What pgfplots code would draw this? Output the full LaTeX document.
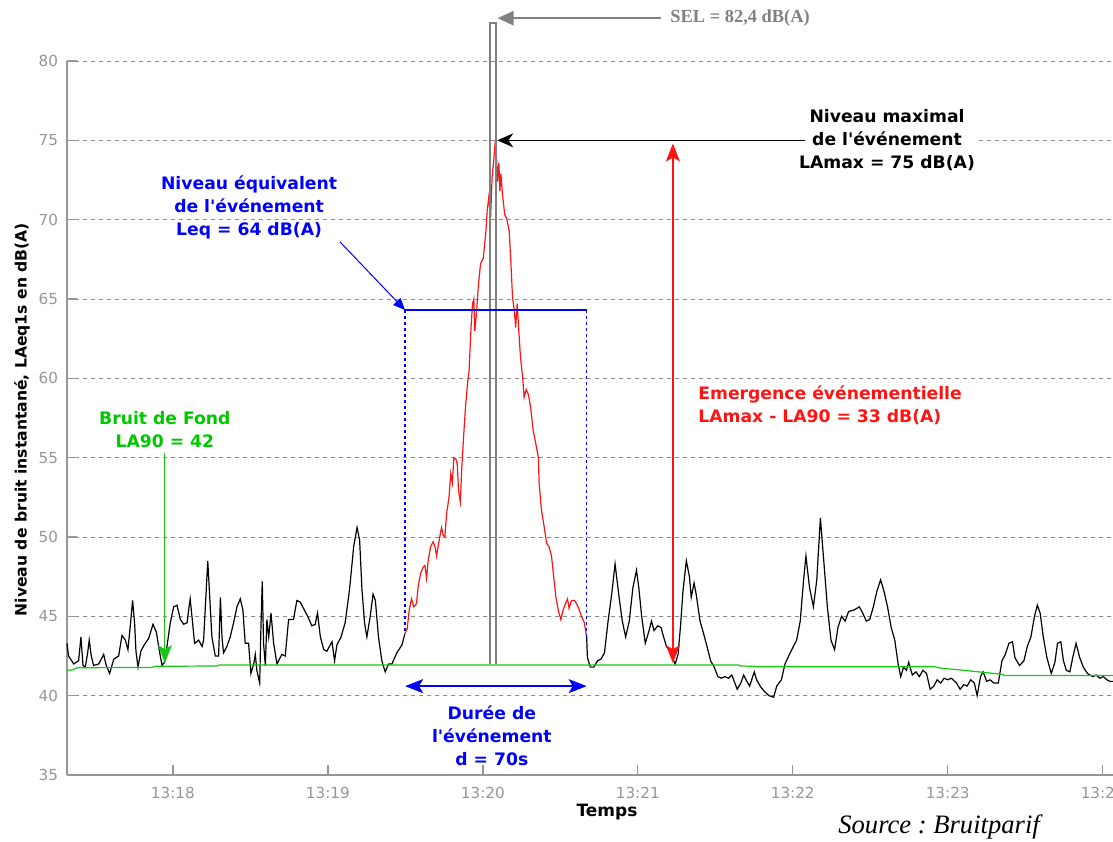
\documentclass[border=0pt]{standalone}
\usepackage{pgfplots}
\pgfplotsset{compat=1.18}
\usepackage{fontspec}
\setmainfont{DejaVu Sans}
\newfontfamily\timesfont{Liberation Serif}
\usetikzlibrary{arrows.meta}
\definecolor{axgray}{RGB}{150,150,150}
\definecolor{gridgray}{RGB}{140,140,140}
\definecolor{ticktext}{RGB}{150,150,150}
\definecolor{selgray}{RGB}{128,128,128}
\definecolor{cred}{RGB}{255,20,20}
\definecolor{cblue}{RGB}{0,0,255}
\definecolor{cgreen}{RGB}{20,200,20}
\definecolor{tgreen}{RGB}{0,200,0}
\newcommand\annot{\bfseries\fontsize{8.6}{11.5}\selectfont}
\newcommand\ap{\textquotesingle}
\frenchspacing
\begin{document}
\begin{tikzpicture}
\begin{axis}[
  at={(33.5pt,33pt)}, anchor=south west,
  scale only axis, width=523pt, height=357pt,
  xmin=19, xmax=424, ymin=35, ymax=80,
  axis x line=bottom, axis y line=left,
  axis line style={-, draw=axgray, line width=0.8pt},
  xtick={60,120,180,240,300,360,420},
  xticklabels={13:18,13:19,13:20,13:21,13:22,13:23,13:24},
  ytick={35,40,45,50,55,60,65,70,75,80},
  ymajorgrids,
  major grid style={dash pattern=on 2pt off 2pt, draw=gridgray, line width=0.5pt},
  tick style={draw=axgray, line width=0.7pt},
  major tick length=5pt, tick align=inside,
  /pgf/number format/assume math mode=true,
  tick label style={font=\fontsize{7.6}{9}\selectfont, text=ticktext},
  xticklabel style={yshift=-2.5pt},
  yticklabel style={xshift=-1pt},
  clip=false,
]
% background level (black)
\addplot[black, line width=0.6pt] coordinates {
(19,43.3)(19.6,42.5)(21.6,42.0)(23.5,42.2)(24.4,43.7)(25.2,41.9)(26.1,41.8)(27.0,42.7)(27.6,43.5)(28.4,42.5)(29.3,41.9)(31.3,42.0)(33.2,42.6)(34.2,41.9)(35.5,41.4)(37.1,42.3)(39.0,42.5)(40.3,43.8)(41.6,43.5)(42.6,42.9)(43.5,44.4)(44.4,46.0)(45.2,44.5)(45.7,42.8)(46.5,41.8)(47.6,42.8)(48.9,43.2)(50.6,43.6)(52.3,44.5)(53.6,44.0)(54.9,42.7)(55.8,41.9)(56.7,42.1)(57.7,43.1)(59.0,44.6)(60.3,45.6)(61.6,45.7)(62.9,44.8)(64.2,44.5)(65.5,44.6)(66.1,45.4)(66.7,46.1)(67.5,44.8)(68.4,43.3)(70.0,43.5)(71.3,43.1)(71.9,43.5)(72.5,45.4)(73.5,48.5)(74.2,46.4)(75.1,43.7)(76.4,42.5)(77.7,42.5)(78.4,46.2)(79.0,43.7)(79.6,42.7)(80.9,43.1)(82.2,43.7)(83.5,44.6)(84.8,45.6)(86.1,46.1)(87.1,45.4)(88.0,43.3)(89.3,43.3)(90.2,41.4)(91.3,42.0)(91.9,42.6)(92.5,41.6)(93.6,40.8)(94.1,44.4)(94.6,47.2)(95.1,43.3)(95.8,41.9)(96.4,44.8)(97.1,43.7)(98.0,45.2)(99.0,43.3)(100.3,42.0)(102.2,42.6)(103.5,42.5)(104.8,44.8)(106.7,44.8)(108.0,46.0)(109.3,45.9)(110.9,45.4)(112.2,45.0)(113.8,44.4)(115.1,44.5)(116.0,45.2)(117.1,43.7)(118.4,42.9)(119.6,42.8)(121.6,43.4)(122.6,42.2)(123.5,43.2)(125.1,43.7)(126.7,44.6)(128.4,46.7)(130.0,49.4)(131.3,50.6)(132.3,49.8)(133.2,46.7)(134.2,44.6)(135.1,43.7)(136.4,45.0)(137.5,46.4)(138.4,46.0)(139.6,43.7)(140.9,42.2)(142.2,41.5)(143.5,42.0)(144.8,42.0)(146.7,42.7)(148.7,43.2)(149.8,43.9)
};
\addplot[black, line width=0.6pt] coordinates {
(220.2,43.7)(220.5,42.4)(221.6,41.8)(223.0,41.8)(224.4,42.2)(225.7,42.3)(227.1,42.7)(228.5,44.7)(229.9,46.4)(231.2,48.3)(232.6,46.4)(234.0,44.7)(235.3,43.7)(236.7,44.7)(238.1,46.8)(239.5,47.9)(240.4,46.8)(241.5,45.0)(242.9,43.3)(244.2,44.0)(245.3,44.7)(246.3,44.1)(247.7,44.4)(249.0,44.3)(250.0,43.7)(251.1,43.1)(252.5,42.8)(253.6,42.3)(254.5,42.0)(255.6,42.6)(256.6,44.5)(257.5,46.6)(258.8,48.5)(260.0,47.5)(260.7,46.2)(261.8,47.1)(262.7,46.3)(264.1,44.7)(265.5,43.9)(266.8,43.1)(268.2,42.2)(269.6,41.8)(271.0,41.2)(272.3,41.1)(273.7,41.2)(275.1,41.1)(276.4,41.3)(277.1,41.0)(278.5,40.4)(279.9,40.8)(281.0,41.3)(281.9,41.0)(283.3,40.6)(285.1,41.5)(286.0,41.0)(287.4,40.6)(288.8,40.3)(290.8,40.0)(292.6,39.9)(293.8,40.6)(295.6,41.0)(297.0,42.0)(299.0,42.7)(301.5,43.5)(302.9,44.7)(304.2,47.3)(305.1,48.8)(306.5,46.8)(308.0,45.6)(309.3,47.3)(310.7,51.2)(312.1,48.3)(313.4,45.6)(314.8,43.5)(316.2,42.9)(317.5,44.3)(318.9,45.0)(320.3,44.7)(321.6,45.3)(323.7,45.4)(325.8,45.6)(327.1,45.2)(328.5,44.7)(329.8,44.8)(331.2,45.6)(332.6,46.6)(334.0,47.3)(335.3,46.6)(336.7,45.6)(338.1,44.3)(339.5,43.5)(340.8,42.0)(341.8,41.2)(342.9,41.8)(344.0,41.6)(344.9,42.1)(346.3,41.3)(347.7,41.5)(349.0,41.2)(350.4,41.6)(351.8,41.4)(353.2,40.4)(354.6,40.6)(355.9,41.0)(357.3,40.8)(358.6,41.1)(360.0,41.0)(361.4,41.1)(363.4,40.8)(364.8,40.4)(366.2,40.7)(367.5,40.6)(368.9,41.0)(370.3,40.8)(371.4,40.0)(372.7,41.2)(373.7,41.5)(375.1,40.9)(376.4,41.0)(377.8,40.8)(379.6,40.8)(381.0,42.2)(382.3,42.6)(383.7,43.3)(385.1,43.4)(386.0,42.4)(387.8,41.9)(389.5,42.2)(390.8,43.1)(392.2,43.7)(393.6,45.0)(394.7,45.7)(395.8,45.2)(397.0,43.7)(398.4,42.4)(400.1,41.4)(401.5,42.1)(402.5,43.3)(403.8,43.4)(404.8,42.2)(405.9,41.6)(407.3,41.5)(408.4,42.4)(409.7,43.3)(411.1,42.4)(412.5,41.8)(414.1,41.4)(416.2,41.2)(417.5,41.3)(418.9,41.1)(420.3,41.2)(421.6,41.0)(422.9,40.9)(424,40.9)
};
% event (red)
\addplot[cred, line width=0.6pt] coordinates {
(149.8,43.9)(150.7,44.2)(151.5,45.4)(152.4,46.1)(153.3,45.6)(154.3,45.8)(155.0,46.9)(155.9,47.7)(156.9,48.1)(157.6,48.2)(158.2,47.4)(158.9,48.6)(159.8,49.4)(160.8,49.7)(161.6,49.3)(162.1,48.8)(163.1,49.8)(164.0,50.6)(164.7,50.1)(165.3,50.0)(166.0,51.5)(166.9,52.5)(167.6,54.0)(168.2,53.4)(168.8,55.0)(169.6,54.9)(170.1,54.6)(170.6,52.9)(171.3,52.2)(171.8,54.2)(172.7,56.7)(173.3,58.2)(174.1,59.7)(174.7,60.5)(175.3,62.8)(176.0,64.7)(176.5,65.0)(176.9,63.0)(177.6,64.2)(178.2,65.7)(179.1,67.2)(180.2,67.6)(181.2,69.3)(181.7,70.6)(182.3,71.4)(183.0,70.1)(183.6,72.7)(184.3,73.9)(184.7,74.7)(185.2,74.3)(185.7,72.4)(186.2,73.6)(186.6,71.8)(187.0,72.9)(187.6,71.6)(188.5,70.3)(189.2,70.1)(190.2,69.3)(190.9,67.2)(191.5,65.1)(192.2,64.3)(192.7,63.2)(193.3,64.7)(194.0,62.8)(194.6,61.3)(195.4,60.1)(196.0,58.8)(196.8,59.3)(197.6,59.0)(198.5,58.2)(199.5,56.7)(200.5,55.9)(201.5,55.0)(201.8,53.4)(202.7,51.7)(203.6,50.8)(204.7,49.6)(205.6,49.4)(206.6,48.8)(207.3,47.7)(208.3,46.2)(209.2,45.4)(210.2,44.8)(211.1,45.4)(212.0,45.8)(212.8,46.1)(213.4,45.5)(214.3,46.0)(215.6,46.0)(216.9,45.6)(218.2,45.0)(219.3,44.6)(220.2,43.7)
};
% LA90 (green)
\addplot[cgreen, line width=0.6pt] coordinates {
(19,41.6)(21,41.62)(23,41.76)(52,41.78)(53,41.85)(77,41.87)(78,41.93)(279,41.93)(280,41.87)(285,41.85)(286,41.82)(355,41.82)(358,41.72)(365,41.62)(372,41.5)(381,41.35)(382,41.27)(424,41.27)
};
% SEL bar and arrow
\draw[selgray, line width=1pt] (axis cs:182.8,42) -- (axis cs:182.8,82.4) -- (axis cs:185.1,82.4) -- (axis cs:185.1,42);
\draw[selgray, line width=1.2pt, -{Triangle[length=8pt,width=7pt]}] (axis cs:248.9,82.7) -- (axis cs:185.7,82.7);
\node[anchor=west, text=selgray, inner sep=0pt, font={\timesfont\bfseries\fontsize{9.2}{11}\selectfont}] at (axis cs:252.5,82.7) {SEL = 82,4 dB(A)};
% LAmax
\node[align=center, fill=white, inner sep=1pt, font=\annot] at (axis cs:336.5,75) {Niveau maximal\\de l\ap événement\\LAmax = 75 dB(A)};
\draw[black, line width=0.7pt, -{Stealth[length=8pt,width=7pt,inset=2.5pt]}] (axis cs:304.7,75) -- (axis cs:185.6,75);
% emergence
\draw[cred, line width=0.7pt, {Stealth[length=9pt,width=7pt,inset=2pt]}-{Stealth[length=9pt,width=7pt,inset=2pt]}] (axis cs:253.6,42.05) -- (axis cs:253.6,74.8);
\node[anchor=west, align=left, text=cred, inner sep=0pt, font=\annot] at (axis cs:263.3,58.3) {Emergence événementielle\\LAmax - LA90 = 33 dB(A)};
% Leq box
\draw[cblue, line width=0.7pt] (axis cs:149.9,64.3) -- (axis cs:220.2,64.3);
\draw[cblue, line width=0.7pt, dash pattern=on 1.5pt off 1.5pt] (axis cs:149.9,64.3) -- (axis cs:149.9,44.0);
\draw[cblue, line width=0.7pt, dash pattern=on 1.5pt off 1.5pt] (axis cs:220.2,64.3) -- (axis cs:220.2,43.7);
\draw[cblue, line width=0.5pt, -{Triangle[length=6pt,width=5pt]}] (axis cs:124.7,68.6) -- (axis cs:149.9,64.3);
\node[align=center, text=cblue, inner sep=0pt, font=\annot] at (axis cs:89.5,70.8) {Niveau équivalent\\de l\ap événement\\Leq = 64 dB(A)};
% duration
\draw[cblue, line width=0.8pt, {Stealth[length=9pt,width=7pt,inset=2pt]}-{Stealth[length=9pt,width=7pt,inset=2pt]}] (axis cs:149.9,40.6) -- (axis cs:220.2,40.6);
\node[align=center, text=cblue, inner sep=0pt, font=\annot] at (axis cs:183.5,37.46) {Durée de\\l\ap événement\\d = 70s};
% background noise
\node[align=center, text=tgreen, inner sep=0pt, font=\annot] at (axis cs:56.9,56.74) {Bruit de Fond\\LA90 = 42};
\draw[cgreen, line width=0.6pt, -{Stealth[length=9pt,width=7pt,inset=2pt]}] (axis cs:56.9,55.3) -- (axis cs:56.9,42.05);
% outer labels
\node[rotate=90, inner sep=0pt, font=\bfseries\fontsize{7.8}{9}\selectfont] at (axis cs:1.6,57.4) {Niveau de bruit instantané, LAeq1s en dB(A)};
\node[inner sep=0pt, font=\bfseries\fontsize{8.5}{10}\selectfont] at (axis cs:228.1,32.67) {Temps};
\node[anchor=base west, inner sep=0pt, font={\timesfont\itshape\fontsize{13.3}{15}\selectfont}] at (axis cs:317.5,31.3) {Source : Bruitparif};
\end{axis}
\pgfresetboundingbox
\useasboundingbox (0,0) rectangle (556.5pt,420.5pt);
\end{tikzpicture}
\end{document}
